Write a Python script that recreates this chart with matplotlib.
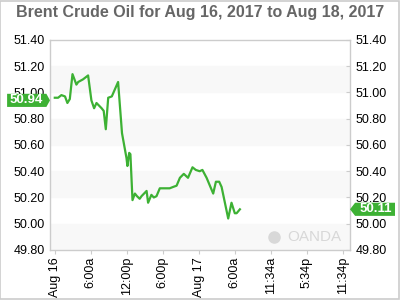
import matplotlib
matplotlib.use("Agg")
from matplotlib import pyplot as plt
from matplotlib.patches import Rectangle, Polygon

plt.rcParams['font.family'] = ['Liberation Sans', 'DejaVu Sans']

# hours since Aug 16 00:00 and price
hours = [0, 0.55, 1.1, 1.7, 2.1, 2.5, 2.95, 3.6, 3.9, 4.7, 5.55, 6.1, 6.55,
         6.95, 7.8, 8.15, 8.5, 8.9, 9.5, 10.55, 11.2, 11.95, 12.1, 12.4, 12.6,
         12.95, 13.35, 13.7, 14.15, 14.45, 15.3, 15.55, 16.1, 16.5, 16.95,
         17.5, 19.15, 19.7, 20.3, 20.85, 21.5, 22.2, 22.95, 23.5, 24.15,
         24.6, 25.3, 26.4, 26.85, 27.4, 27.8, 28.9, 29.45, 30.0, 30.3, 30.85]
price = [50.96, 50.96, 50.98, 50.97, 50.92, 50.95, 51.14, 51.06, 51.08, 51.10,
         51.13, 50.94, 50.88, 50.92, 50.88, 50.86, 50.72, 50.96, 50.97, 51.08,
         50.69, 50.50, 50.44, 50.54, 50.53, 50.18, 50.23, 50.21, 50.19, 50.21,
         50.25, 50.16, 50.22, 50.20, 50.21, 50.27, 50.27, 50.28, 50.29, 50.35,
         50.38, 50.35, 50.43, 50.41, 50.40, 50.41, 50.35, 50.23, 50.32, 50.32,
         50.28, 50.04, 50.16, 50.08, 50.08, 50.11]

tick_hours = [0, 6, 12, 18, 24, 30, 36, 42, 48]
tick_labels = ['Aug 16', '6:00a', '12:00p', '6:00p', 'Aug 17', '6:00a',
               '11:34a', '5:34p', '11:34p']
y_ticks = [49.8, 50.0, 50.2, 50.4, 50.6, 50.8, 51.0, 51.2, 51.4]
bands = [(49.8, 50.0), (50.2, 50.4), (50.6, 50.8), (51.0, 51.2)]
open_price = 50.94
last_price = 50.11

green = '#3db134'
frame = '#cccccc'

fig = plt.figure(figsize=(4, 3), dpi=100)
fig.patches.append(Rectangle((0.001, 0.002), 0.997, 0.995, transform=fig.transFigure,
                             fill=False, edgecolor=frame, linewidth=1.2))
ax = fig.add_axes([0.125, 0.1667, 0.75, 0.7])

for lo, hi in bands:
    ax.axhspan(lo, hi, color='#f8f8f8', zorder=0)

ax.plot(hours, price, color=green, linewidth=1.6, zorder=3)

ax.set_xlim(-0.8, 49.2)
ax.set_ylim(49.8, 51.4)
ax.set_xticks(tick_hours)
ax.set_xticklabels(tick_labels, rotation=90, fontsize=9)
ax.set_yticks(y_ticks)
ax.set_yticklabels(['%.2f' % v for v in y_ticks], fontsize=9)
ax.tick_params(axis='x', direction='out', length=3, color=frame, pad=2)
ax.tick_params(axis='y', which='both', left=False, right=True, labelleft=True,
               labelright=True, direction='in', length=3, color=frame, pad=4)
for s in ax.spines.values():
    s.set_color(frame)
    s.set_linewidth(1)

fig.suptitle('Brent Crude Oil for Aug 16, 2017 to Aug 18, 2017', x=0.5, y=0.985,
             fontsize=11.5, fontweight='bold', color='#666666')

# price flags (x in axes fraction, y in data)
trans = ax.get_yaxis_transform()
h = 0.05
yl = open_price
ax.add_patch(Polygon([(-0.143, yl - h), (-0.012, yl - h), (0.0, yl),
                      (-0.012, yl + h), (-0.143, yl + h)], closed=True,
                     transform=trans, facecolor=green, edgecolor='none',
                     clip_on=False, zorder=5))
ax.text(-0.078, yl, '%.2f' % open_price, transform=trans, ha='center', va='center',
        color='white', fontsize=9.5, fontweight='bold', zorder=6)
yr = last_price
ax.add_patch(Polygon([(0.0 + 1.0, yr), (1.017, yr + h), (1.15, yr + h),
                      (1.15, yr - h), (1.017, yr - h)], closed=True,
                     transform=trans, facecolor=green, edgecolor='none',
                     clip_on=False, zorder=5))
ax.text(1.085, yr, '%.2f' % last_price, transform=trans, ha='center', va='center',
        color='white', fontsize=9.5, fontweight='bold', zorder=6)

# watermark
ax.text(0.97, 0.06, 'OANDA', transform=ax.transAxes, ha='right', va='center',
        fontsize=11, color='#d8d8d8', zorder=1)
ax.plot([0.745], [0.06], transform=ax.transAxes, marker='o', markersize=8,
        color='#d8d8d8', zorder=1)

fig.savefig('out.png', dpi=100)
